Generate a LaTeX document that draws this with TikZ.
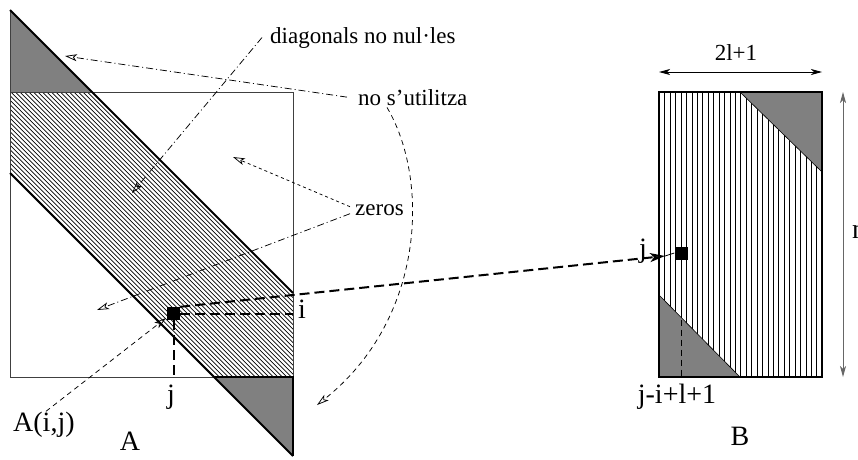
\documentclass[tikz,border=0pt]{standalone}
\usepackage{fontspec}
\setmainfont{Liberation Serif}
\usetikzlibrary{arrows.meta}
\definecolor{fillgray}{gray}{0.5}
\tikzset{
  smalllbl/.style={font=\fontsize{23}{27}\selectfont, inner sep=0pt},
  biglbl/.style={font=\fontsize{28}{32}\selectfont, inner sep=0pt},
  thinarrow/.style={-{Stealth[open,length=12pt,width=7pt,inset=3pt]}, line width=0.75pt},
  dashdotline/.style={dash pattern=on 7pt off 3pt on 1pt off 3pt},
  shortdash/.style={dash pattern=on 5pt off 4pt},
  thickdash/.style={line width=2pt, dash pattern=on 10pt off 5pt},
  bandline/.style={line width=1.9pt},
  hatchA/.style={line width=0.7pt},
  hatchB/.style={line width=1.5pt},
  dimarrow/.style={{Stealth[length=11pt,width=6pt,inset=3pt]}-{Stealth[length=11pt,width=6pt,inset=3pt]}, line width=0.9pt},
  blacksq/.style={fill=black, draw=none, minimum size=13pt, inner sep=0pt},
}
\begin{document}
\begin{tikzpicture}[x=1pt,y=-1pt]
\useasboundingbox (0,0) rectangle (858,459);

% ---------- matrix A ----------
\begin{scope}
  \clip (10,92) -- (92,92) -- (293,293) -- (293,377) -- (214,377) -- (10,173) -- cycle;
  \foreach \c in {0,4.5,...,170} \draw[hatchA] (0,\c) -- (300,300+\c);
\end{scope}
\fill[fillgray] (10,10) -- (92,92) -- (10,92) -- cycle;
\fill[fillgray] (214,377) -- (293,377) -- (293,456) -- cycle;
\draw[black!75, line width=0.9pt] (10,92) rectangle (293,377);
\draw[black!75, line width=0.9pt] (10,10) -- (10,92);
\draw[line width=1.2pt] (214,377) -- (293,377) -- (293,456);
\draw[bandline] (10,10) -- (293,293);
\draw[bandline] (10,173) -- (293,456);

\node[blacksq] (sqa) at (173.5,313.5) {};

% ---------- matrix B ----------
\foreach \k in {1,...,29} \draw[hatchB] ({659.5+round(\k*5.43)},92) -- ++(0,285);
\filldraw[fill=fillgray, draw=black, line width=0.6pt] (740,92) -- (822,92) -- (822,172) -- cycle;
\filldraw[fill=fillgray, draw=black, line width=0.6pt] (659,295) -- (659,377) -- (740,377) -- cycle;
\draw[line width=1.5pt] (659,92) rectangle (822,377);
\node[blacksq] (sqb) at (681,253) {};

% ---------- labels ----------
\node[smalllbl, anchor=base west] (diag) at (270,43) {diagonals no nul·les};
\node[smalllbl, anchor=base west] (nous) at (358,105) {no s’utilitza};
\node[smalllbl, anchor=base west] (zeros) at (355,215) {zeros};
\node[smalllbl, anchor=base] (dim) at (736,60) {2l+1};
\node[biglbl, anchor=base west] (ni) at (298,318) {i};
\node[biglbl, anchor=base] (nj) at (171,403) {j};
\node[biglbl, anchor=base west] (aij) at (13,431) {A(i,j)};
\node[biglbl, anchor=base] (la) at (130,450) {A};
\node[biglbl, anchor=base] (lb) at (740,445) {B};
\node[biglbl, anchor=base] (jil) at (677,403) {j-i+l+1};
\node[biglbl, anchor=base] (jb) at (643,257) {j};
\node[biglbl, anchor=base west] (nn) at (852,238) {n};

% ---------- free ends ----------
\coordinate (tipTri) at (65,56);
\coordinate (tipBand) at (132,193);
\coordinate (tipZ1) at (233,157);
\coordinate (tipZ2) at (97,310);
\coordinate (tipLow) at (317,405);
\coordinate (tipA) at (166,318);
\coordinate (tipB) at (665,256);
\coordinate (ri) at (293,313.5);
\coordinate (bj) at (173.5,377);
\coordinate (bj2) at (681,377);
\coordinate (dl) at (659,72);
\coordinate (dr) at (822,72);
\coordinate (nt) at (843,92);
\coordinate (nb) at (843,377);

% ---------- connectors ----------
\draw[thinarrow, dashdotline] ([xshift=-8pt]diag.west) -- (tipBand);
\draw[thinarrow, dashdotline] ([xshift=-11pt]nous.west) -- (tipTri);
\draw[thinarrow, shortdash] ([xshift=29pt,yshift=-2pt]nous.south west) .. controls (430,180) and (425,320) .. (tipLow);
\draw[thinarrow, dashed] ([xshift=-5pt,yshift=3pt]zeros.west) -- (tipZ1);
\draw[thinarrow, dashdotline] ([xshift=-5pt,yshift=-4pt]zeros.west) -- (tipZ2);
\draw[thinarrow, dash pattern=on 5pt off 4pt] ([xshift=2pt]aij.north) -- (tipA);

\draw[thickdash, -{Stealth[open,length=15pt,width=9pt,inset=4pt]}] (sqa.north east) -- (tipB);
\draw[line width=0.8pt] (tipB) -- (sqb.west);
\draw[thickdash] (sqa.east) -- (ri);
\draw[thickdash] (sqa.south) -- (bj);
\draw[line width=1pt, dash pattern=on 6pt off 4pt] (sqb.south) -- (bj2);

\draw[dimarrow] (dl) -- (dr);
\draw[dimarrow, draw=black!60] (nt) -- (nb);
\end{tikzpicture}
\end{document}
